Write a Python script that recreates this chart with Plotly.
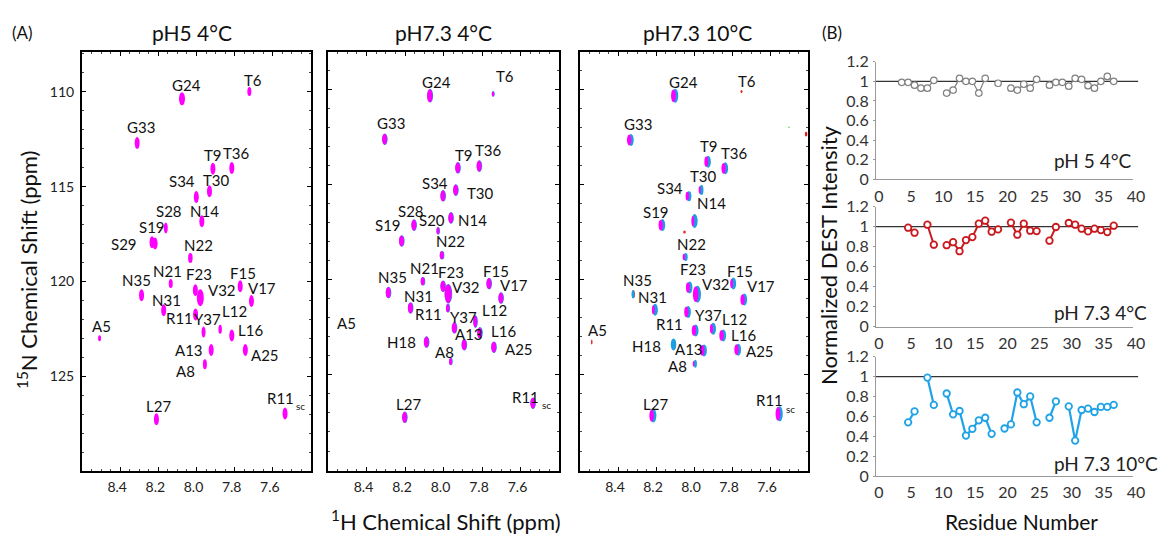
import plotly.graph_objects as go

W, H = 1159, 535

# ---------------- (A) 1H-15N HSQC peak lists (1H ppm, 15N ppm) ----------------
p1_labels = ["G24", "T6", "G33", "T9", "T36", "S34", "T30", "N14", "S28", "S19", "S29", "N22",
             "N21", "N35", "F23", "V32", "F15", "V17", "N31", "R11", "Y37", "L12", "L16",
             "A13", "A25", "A8", "A5", "L27", "R11sc"]
p1_h = [8.076, 7.723, 8.311, 7.914, 7.815, 8.001, 7.932, 7.972, 8.161, 8.217, 8.233, 8.032,
        8.135, 8.288, 8.006, 7.980, 7.771, 7.712, 8.172, 8.005, 7.963, 7.876, 7.815,
        7.923, 7.744, 7.956, 8.508, 8.210, 7.536]
p1_n = [110.37, 109.99, 112.70, 114.06, 114.02, 115.55, 115.25, 116.83, 117.18, 118.00, 117.94, 118.76,
        120.11, 120.73, 120.46, 120.86, 120.25, 121.04, 121.52, 121.74, 122.67, 122.53, 122.85,
        123.62, 123.62, 124.37, 123.00, 127.27, 126.97]

p2_labels = ["G24", "T6", "G33", "T9", "T36", "S34", "T30", "N14", "S28", "S20", "S19", "N22",
             "N21", "N35", "F23", "V32", "F15", "V17", "N31", "R11", "Y37", "L12", "L16",
             "A13", "A25", "H18", "A8", "A5", "L27", "R11sc"]
p2_h = [8.071, 7.743, 8.306, 7.926, 7.815, 8.003, 7.937, 7.962, 8.154, 8.029, 8.218, 8.009,
        8.108, 8.287, 8.003, 7.976, 7.764, 7.702, 8.172, 7.978, 7.944, 7.835, 7.812,
        7.893, 7.739, 8.089, 7.963, 8.508, 8.202, 7.536]
p2_n = [110.35, 110.25, 112.63, 114.13, 114.04, 115.60, 115.30, 116.76, 117.14, 117.44, 117.97, 118.72,
        120.09, 120.68, 120.35, 120.74, 120.21, 120.97, 121.49, 121.50, 122.53, 122.20, 122.80,
        123.42, 123.55, 123.28, 124.30, 123.00, 127.23, 126.49]
p2_absent = ["A5"]  # labelled but no peak observed

p3_labels = ["G24", "T6", "G33", "T9", "T36", "T30", "S34", "N14", "S19", "N22", "N35", "F23",
             "V32", "F15", "V17", "N31", "R11", "Y37", "L12", "L16", "A13", "A25", "H18", "A8",
             "A5", "L27", "R11sc"]
p3_h = [8.105, 7.750, 8.338, 7.932, 7.841, 7.967, 8.032, 8.003, 8.172, 8.050, 8.327, 8.029,
        7.988, 7.799, 7.741, 8.211, 8.037, 7.997, 7.905, 7.852, 7.953, 7.773, 8.114, 7.999,
        8.538, 8.220, 7.555]
p3_n = [110.35, 110.12, 112.67, 113.81, 114.16, 115.30, 115.62, 116.93, 117.14, 118.81, 120.77, 120.42,
        120.77, 120.21, 121.05, 121.58, 121.70, 122.67, 122.58, 122.93, 123.72, 123.68, 123.41, 124.42,
        123.28, 127.14, 127.05]
# small unassigned contours in pH7.3 10C spectrum
p3_extra_h = [8.050, 7.410, 7.500]
p3_extra_n = [117.50, 112.35, 112.00]

# ---------------- (B) normalized DEST intensities ----------------
res_ph5 = [4, 5, 6, 7, 8, 9, 11, 12, 13, 14, 15, 16, 17, 19, 21, 22, 23, 24, 25,
           27, 28, 29, 30, 31, 32, 33, 34, 35, 36, 37]
dest_ph5 = [0.99, 0.99, 0.96, 0.93, 0.93, 1.01, 0.88, 0.91, 1.03, 1.00, 1.00, 0.88, 1.03, 0.98,
            0.93, 0.91, 0.97, 0.93, 1.02, 0.96, 0.99, 0.99, 0.95, 1.03, 1.02, 0.955, 0.93,
            1.00, 1.05, 1.00]
res_ph73_4 = [5, 6, 8, 9, 11, 12, 13, 14, 15, 16, 17, 18, 19, 21, 22, 23, 24, 25,
              27, 28, 30, 31, 32, 33, 34, 35, 36, 37]
dest_ph73_4 = [0.99, 0.94, 1.02, 0.82, 0.815, 0.845, 0.755, 0.866, 0.896, 1.03, 1.06, 0.95, 0.973,
               1.04, 0.92, 1.03, 0.96, 0.956, 0.86, 0.997, 1.037, 1.02, 0.98, 0.953, 0.98,
               0.966, 0.946, 1.01]
res_ph73_10 = [5, 6, 8, 9, 11, 12, 13, 14, 15, 16, 17, 18, 20, 21, 22, 23, 24, 25,
               27, 28, 30, 31, 32, 33, 34, 35, 36, 37]
dest_ph73_10 = [0.54, 0.65, 0.99, 0.715, 0.83, 0.62, 0.654, 0.407, 0.475, 0.56, 0.586, 0.424,
                0.478, 0.519, 0.84, 0.722, 0.80, 0.54, 0.586, 0.75, 0.70, 0.356, 0.664,
                0.678, 0.644, 0.695, 0.695, 0.715]

x_ticks_h = [8.4, 8.2, 8.0, 7.8, 7.6]
y_ticks_n = [110, 115, 120, 125]
dest_yticks = [0, 0.2, 0.4, 0.6, 0.8, 1.0, 1.2]
dest_yticktext = ["0", "0.2", "0.4", "0.6", "0.8", "1", "1.2"]
res_ticks = [0, 5, 10, 15, 20, 25, 30, 35, 40]

# ---------------- styles / layout helpers ----------------
FONT = "Lato"
MAGENTA = "#FF00FF"
CYAN = "#1C9FE0"
RED = "#F01818"
GREEN = "#39D339"


def px(x, y):
    return x / W, 1 - y / H


# label offsets (pixels: dx right, dy down) relative to the peak
off1 = {"G24": (4, -14), "T6": (4, -12), "G33": (4, -16), "T9": (0, -14), "T36": (5, -15),
        "S34": (-14, -16), "T30": (7, -11), "N14": (3, -10), "S28": (3, -17), "S19": (-3, -16),
        "S29": (-28, 2), "N22": (8, -13), "N21": (-3, -12), "N35": (-5, -15), "F23": (4, -16),
        "V32": (22, -8), "F15": (3, -13), "V17": (11, -13), "N31": (3, -10), "R11": (-16, 4),
        "Y37": (4, -13), "L12": (14, -18), "L16": (19, -5), "A13": (-22, 0), "A25": (20, 5),
        "A8": (-19, 7), "A5": (2, -12), "L27": (2, -13), "R11sc": ((-5, -16), (15, -8))}
off2 = {"G24": (7, -14), "T6": (12, -18), "G33": (6, -16), "T9": (6, -13), "T36": (9, -16),
        "S34": (-8, -13), "T30": (25, 3), "N14": (22, 2), "S28": (-3, -14), "S20": (-6, -11),
        "S19": (-14, -16), "N22": (9, -14), "N21": (2, -13), "N35": (4, -16), "F23": (8, -14),
        "V32": (18, -7), "F15": (7, -13), "V17": (13, -13), "N31": (8, -12), "R11": (-19, 6),
        "Y37": (9, -11), "L12": (19, -11), "L16": (24, -2), "A13": (5, -11), "A25": (25, 2),
        "H18": (-25, 0), "A8": (-6, -9), "A5": (1, -14), "L27": (4, -13),
        "R11sc": ((-7, -6), (14, 2))}
off3 = {"G24": (9, -14), "T6": (5, -10), "G33": (8, -16), "T9": (2, -16), "T36": (10, -15),
        "T30": (3, -14), "S34": (-18, -8), "N14": (18, -18), "S19": (-5, -13), "N22": (7, -13),
        "N35": (6, -14), "F23": (5, -19), "V32": (20, -10), "F15": (8, -13), "V17": (18, -14),
        "N31": (-1, -13), "R11": (-17, 12), "Y37": (14, -15), "L12": (22, -10), "L16": (21, 0),
        "A13": (-14, -1), "A25": (23, 1), "H18": (-26, 1), "A8": (-17, 2), "A5": (6, -12),
        "L27": (3, -12), "R11sc": ((-9, -14), (12, -5))}

# contour footprint (pixels) for each peak
size1 = {"V32": (7, 17), "G24": (6, 13), "A5": (3, 6), "T6": (4, 9), "L12": (3.5, 9),
         "N21": (4, 9), "N22": (4.5, 10), "S28": (4, 11), "A8": (4, 10), "Y37": (4, 11)}
size2 = {"T6": (2.5, 5), "A8": (3, 7), "S20": (3, 7), "N22": (4, 8), "N21": (4, 8),
         "V32": (7, 19), "L12": (4, 12), "G24": (5.5, 13), "R11": (3.5, 8)}
size3 = {"T6": (2, 3), "A5": (1.5, 5), "V32": (7, 17), "N14": (6, 14), "G24": (6, 14),
         "R11sc": (6, 15), "A8": (3, 8), "N35": (3, 8), "N22": (4, 8), "S34": (4.5, 10),
         "T30": (4, 10), "L27": (6, 14)}
mag3 = {"N14": 0.45, "N31": 0.5, "H18": 0.0, "F15": 0.5, "T30": 0.5, "N35": 0.0, "L12": 0.55,
        "A8": 0.55, "L27": 0.75, "N22": 0.6, "T9": 0.7, "F23": 0.7, "S34": 0.75}
red_only3 = ["T6", "A5"]

panels = [
    dict(xa="x", ya="y", dom=(82, 311), yr=[130.0, 107.9], title="pH5 4°C", tx=192),
    dict(xa="x2", ya="y2", dom=(328, 559), yr=[130.05, 108.05], title="pH7.3 4°C", tx=443),
    dict(xa="x3", ya="y3", dom=(580, 808), yr=[130.05, 108.05], title="pH7.3 10°C", tx=697),
]
TOP, BOT = 52, 471

fig = go.Figure()
shapes = []
annotations = []


def ellipse(p, h, n, wpx, hpx, color, dxpx=0.0):
    kx = 1.2 / (p["dom"][1] - p["dom"][0])
    ky = (p["yr"][0] - p["yr"][1]) / (BOT - TOP)
    c = h - dxpx * kx
    return dict(type="circle", xref=p["xa"], yref=p["ya"],
                x0=c - wpx * kx / 2, x1=c + wpx * kx / 2,
                y0=n - hpx * ky / 2, y1=n + hpx * ky / 2,
                fillcolor=color, line=dict(width=0), layer="above")


def lab_ann(p, h, n, text, dx, dy, size):
    return dict(x=h, y=n, xref=p["xa"], yref=p["ya"], text=text, showarrow=False,
                xanchor="center", yanchor="middle", xshift=dx, yshift=-dy,
                font=dict(family=FONT, size=size, color="#111"))


def add_labels(p, labels, hs, ns, offs):
    for lab, h, n in zip(labels, hs, ns):
        o = offs[lab]
        if lab == "R11sc":
            (d1, e1), (d2, e2) = o
            annotations.append(lab_ann(p, h, n, "R11", d1, e1, 15))
            annotations.append(lab_ann(p, h, n, "sc", d2, e2, 10))
        else:
            annotations.append(lab_ann(p, h, n, lab, o[0], o[1], 15))


# panel 1
P = panels[0]
for lab, h, n in zip(p1_labels, p1_h, p1_n):
    w_, h_ = size1.get(lab, (5, 12))
    shapes.append(ellipse(P, h, n, w_, h_, MAGENTA))
add_labels(P, p1_labels, p1_h, p1_n, off1)
fig.add_trace(go.Scatter(x=p1_h, y=p1_n, text=p1_labels, mode="markers", xaxis="x", yaxis="y",
                         marker=dict(size=6, color=MAGENTA, opacity=0), hoverinfo="text+x+y",
                         showlegend=False))

# panel 2
P = panels[1]
for lab, h, n in zip(p2_labels, p2_h, p2_n):
    if lab in p2_absent:
        continue
    w_, h_ = size2.get(lab, (5, 11))
    shapes.append(ellipse(P, h, n, w_ + 0.6, h_ + 0.6, CYAN, 0.3))
    shapes.append(ellipse(P, h, n, w_, h_, MAGENTA))
add_labels(P, p2_labels, p2_h, p2_n, off2)
fig.add_trace(go.Scatter(x=p2_h, y=p2_n, text=p2_labels, mode="markers", xaxis="x2", yaxis="y2",
                         marker=dict(size=6, color=MAGENTA, opacity=0), hoverinfo="text+x+y",
                         showlegend=False))

# panel 3
P = panels[2]
for lab, h, n in zip(p3_labels, p3_h, p3_n):
    w_, h_ = size3.get(lab, (5.5, 12))
    if lab in red_only3:
        shapes.append(ellipse(P, h, n, w_, h_, RED))
        continue
    if lab == "N35":
        shapes.append(ellipse(P, h, n, w_, h_, RED, 1.5))
    shapes.append(ellipse(P, h, n, w_, h_, CYAN, 1.2))
    m = mag3.get(lab, 0.8)
    if m > 0:
        shapes.append(ellipse(P, h, n, w_ * m, h_ * (0.5 + 0.5 * m), MAGENTA, -0.6))
for h, n, col, s in zip(p3_extra_h, p3_extra_n, [RED, RED, GREEN], [(2.5, 3), (2.5, 5), (1.5, 1.5)]):
    shapes.append(ellipse(P, h, n, s[0], s[1], col))
add_labels(P, p3_labels, p3_h, p3_n, off3)
fig.add_trace(go.Scatter(x=p3_h, y=p3_n, text=p3_labels, mode="markers", xaxis="x3", yaxis="y3",
                         marker=dict(size=6, color=CYAN, opacity=0), hoverinfo="text+x+y",
                         showlegend=False))


def paper_text(txt, x, y, size, angle=0, xanchor="center", color="#111"):
    xx, yy = px(x, y)
    return dict(x=xx, y=yy, xref="paper", yref="paper", text=txt, textangle=angle,
                xanchor=xanchor, yanchor="middle", showarrow=False,
                font=dict(family=FONT, size=size, color=color))


# NMR axes
for i, P in enumerate(panels):
    sfx = "" if i == 0 else str(i + 1)
    xd = (P["dom"][0] / W, P["dom"][1] / W)
    yd = (1 - BOT / H, 1 - TOP / H)
    fig.layout["xaxis" + sfx] = dict(
        domain=list(xd), anchor="y" + sfx, range=[8.6, 7.4], tickvals=x_ticks_h,
        ticktext=["%.1f" % v for v in x_ticks_h], showline=True, linewidth=2, linecolor="black",
        mirror="allticks", ticks="inside", ticklen=4, tickwidth=1.2, tickcolor="black",
        minor=dict(dtick=0.05, ticks="inside", ticklen=2, tickcolor="#444", tickwidth=0.8),
        showgrid=False, zeroline=False, ticklabelstandoff=2, ticklabelshift=3, automargin=False,
        tickfont=dict(family=FONT, size=14, color="#222"))
    fig.layout["yaxis" + sfx] = dict(
        domain=list(yd), anchor="x" + sfx, range=P["yr"], tickvals=y_ticks_n,
        showticklabels=(i == 0), showline=True, linewidth=2, linecolor="black",
        mirror="allticks", ticks="inside", ticklen=4, tickwidth=1.2, tickcolor="black",
        minor=dict(dtick=1, ticks="inside", ticklen=2, tickcolor="#444", tickwidth=0.8),
        showgrid=False, zeroline=False, ticklabelstandoff=3, automargin=False,
        tickfont=dict(family=FONT, size=14, color="#222"))
    annotations.append(paper_text(P["title"], P["tx"], 33, 21))


# ---------------- (B) DEST panels ----------------
def with_gaps(res, vals):
    xs, ys = [], []
    for k, (r, v) in enumerate(zip(res, vals)):
        if k > 0 and r - res[k - 1] > 1:
            xs.append(None)
            ys.append(None)
        xs.append(r)
        ys.append(v)
    return xs, ys


dest_sets = [
    (res_ph5, dest_ph5, "#808080", 1.2, 1.2, "pH 5 4°C", (61.7, 179.3), 160),
    (res_ph73_4, dest_ph73_4, "#C8191E", 2.0, 1.8, "pH 7.3 4°C", (206.7, 326.7), 312),
    (res_ph73_10, dest_ph73_10, "#1FA3E6", 2.2, 1.8, "pH 7.3 10°C", (356.7, 476.0), 463),
]
RX0, RX1 = 876, 1133
for j, (rs, vs, col, lw, mlw, lab, (yt, yb), ly) in enumerate(dest_sets):
    k = j + 4
    xs, ys = with_gaps(rs, vs)
    fig.add_trace(go.Scatter(x=xs, y=ys, xaxis="x%d" % k, yaxis="y%d" % k, mode="lines+markers",
                             line=dict(color=col, width=lw), connectgaps=False,
                             marker=dict(symbol="circle", size=6.5, color="white",
                                         line=dict(color=col, width=mlw)),
                             cliponaxis=False, showlegend=False, name=lab))
    fig.layout["xaxis%d" % k] = dict(
        domain=[RX0 / W, RX1 / W], anchor="y%d" % k, range=[0, 40], tickvals=res_ticks,
        showline=True, linecolor="#9a9a9a", linewidth=1.2, ticks="", showgrid=False,
        zeroline=False, ticklabelstandoff=2, ticklabelshift=3, automargin=False,
        tickfont=dict(family=FONT, size=16, color="#333"))
    fig.layout["yaxis%d" % k] = dict(
        domain=[1 - yb / H, 1 - yt / H], anchor="x%d" % k, range=[0, 1.2],
        tickvals=dest_yticks, ticktext=dest_yticktext, showline=True, linecolor="#9a9a9a",
        linewidth=1.2, ticks="outside", ticklen=2, tickcolor="#9a9a9a", showgrid=False,
        zeroline=False, ticklabelstandoff=1, automargin=False,
        tickfont=dict(family=FONT, size=16, color="#333"))
    shapes.append(dict(type="line", xref="x%d domain" % k, yref="y%d" % k, x0=0, x1=1.02,
                       y0=1, y1=1, line=dict(color="#333", width=1.2), layer="below"))
    annotations.append(paper_text(lab, 1052, ly, 19, xanchor="left", color="#222"))

# ---------------- global text ----------------
annotations.append(paper_text("(A)", 22, 33, 17))
annotations.append(paper_text("(B)", 832, 32, 17))
annotations.append(paper_text("<sup>15</sup>N Chemical Shift (ppm)", 28, 270, 22, angle=-90))
annotations.append(paper_text("<sup>1</sup>H Chemical Shift (ppm)", 446, 520, 22))
annotations.append(paper_text("Normalized DEST Intensity", 829, 255, 22, angle=-90))
annotations.append(paper_text("Residue Number", 1021, 521, 21))

fig.update_layout(template="none", width=W, height=H,
                  margin=dict(l=0, r=0, t=0, b=0, autoexpand=False),
                  paper_bgcolor="white", plot_bgcolor="white",
                  shapes=shapes, annotations=annotations, showlegend=False,
                  font=dict(family=FONT))
fig.write_html("out.html")
